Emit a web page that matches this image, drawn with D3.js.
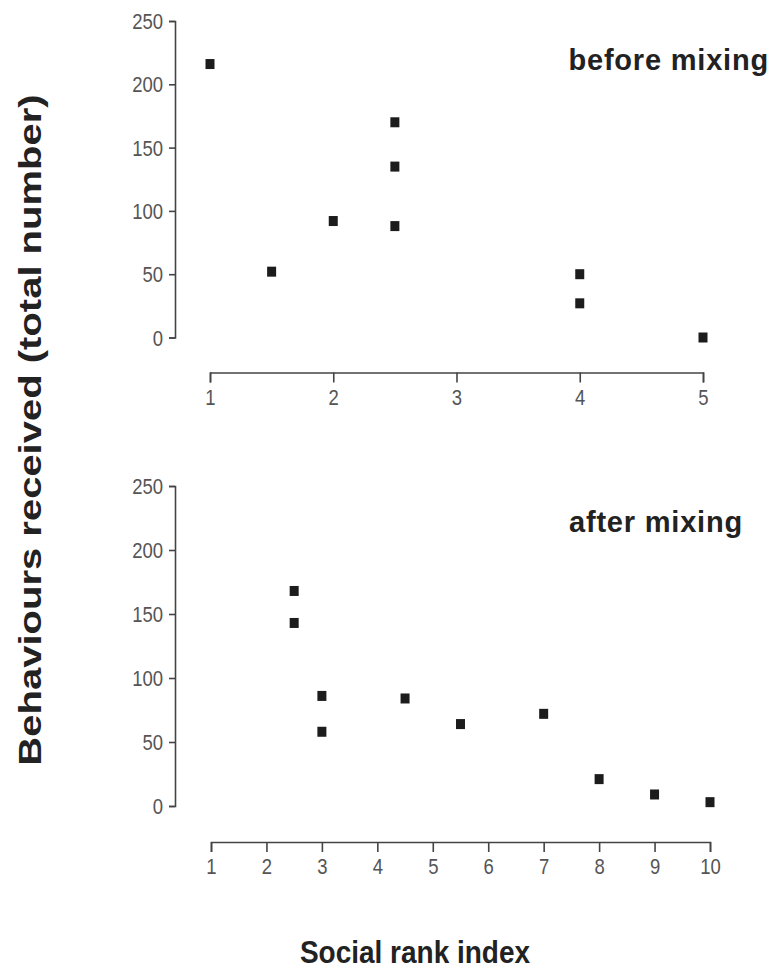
<!DOCTYPE html>
<html>
 <head>
  <title>Social rank vs behaviours received</title>
  <script src="https://d3js.org/d3.v7.min.js"></script>
 </head>
 <body style="margin:0;background:#fff">
<style>
 text { font-family: "Liberation Sans", Arial, sans-serif; }
 .tick text { fill: #555; font-size: 18.5px; }
 .domain, .tick line { stroke: #444; stroke-width: 1.6; }
</style>
 <svg width="772" height="980"></svg>
 <script>
// before mixing
var rankBefore  = [1, 1.5, 2, 2.5, 2.5, 2.5, 4, 4, 5];
var countBefore = [216, 52, 92, 170, 135, 88, 50, 27, 0];
// after mixing
var rankAfter  = [2.5, 2.5, 3, 3, 4.5, 5.5, 7, 8, 9, 10];
var countAfter = [168, 143, 86, 58, 84, 64, 72, 21, 9, 3];

var yTicks = [0, 50, 100, 150, 200, 250];
var xTicksBefore = [1, 2, 3, 4, 5];
var xTicksAfter = [1, 2, 3, 4, 5, 6, 7, 8, 9, 10];

var svg = d3.select("svg");

var panels = [
  {title: "before mixing", xs: rankBefore, ys: countBefore, xTicks: xTicksBefore,
   xDomain: [1, 5], x0: 210, x1: 703, yTop: 21, yBot: 337.5, axisY: 372.5,
   titleX: 769, titleY: 70},
  {title: "after mixing", xs: rankAfter, ys: countAfter, xTicks: xTicksAfter,
   xDomain: [1, 10], x0: 211, x1: 710, yTop: 486, yBot: 806, axisY: 842,
   titleX: 743, titleY: 532}
];

// the scanned figure is a little taller than wide, so text is stretched vertically
var stretch = 1.15;

panels.forEach(function(p) {
  var x = d3.scaleLinear().domain(p.xDomain).range([p.x0, p.x1]);
  var y = d3.scaleLinear().domain([0, 250]).range([p.yBot, p.yTop]);

  svg.append("g")
    .attr("transform", "translate(175,0)")
    .call(d3.axisLeft(y).tickValues(yTicks).tickSize(6).tickPadding(6))
    .call(function(g) {
      g.selectAll(".tick text").attr("dy", "0.36em").attr("transform", "scale(1," + stretch + ")");
    });

  svg.append("g")
    .attr("transform", "translate(0," + p.axisY + ")")
    .call(d3.axisBottom(x).tickValues(p.xTicks).tickSize(10).tickPadding(5).tickFormat(d3.format("d")))
    .call(function(g) {
      g.selectAll(".tick text").attr("transform", "scale(1," + stretch + ")");
    });

  svg.selectAll(null)
    .data(p.xs.map(function(v, i) { return [v, p.ys[i]]; }))
    .enter()
    .append("rect")
    .attr("x", function(d) { return x(d[0]) - 4.5; })
    .attr("y", function(d) { return y(d[1]) - 5; })
    .attr("width", 9)
    .attr("height", 10)
    .style("fill", "#1c1c1c");

  svg.append("text")
    .attr("x", p.titleX).attr("y", p.titleY)
    .attr("text-anchor", "end")
    .style("font-size", "29px").style("font-weight", "bold")
    .style("letter-spacing", "0.8px")
    .style("fill", "#222")
    .text(p.title);
});

svg.append("text")
  .attr("transform", "translate(41,430) rotate(-90) scale(1.25,1)")
  .attr("text-anchor", "middle")
  .style("font-size", "32px").style("font-weight", "bold")
  .style("fill", "#222")
  .text("Behaviours received (total number)");

svg.append("text")
  .attr("transform", "translate(415,963) scale(1," + stretch + ")")
  .attr("text-anchor", "middle")
  .style("font-size", "28px").style("font-weight", "bold")
  .style("fill", "#222")
  .text("Social rank index");
 </script>
</body>
</html>
